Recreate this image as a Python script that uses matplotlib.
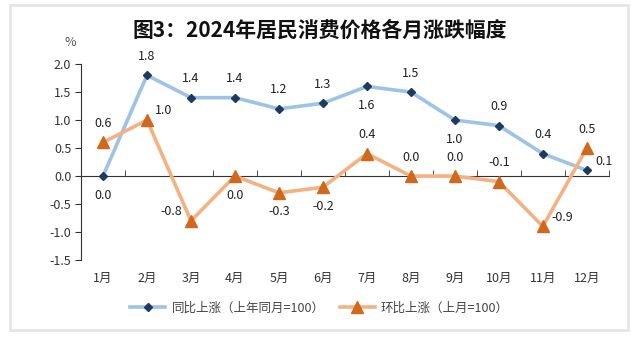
import numpy as np
import matplotlib
matplotlib.use("Agg")
import matplotlib.pyplot as plt
from matplotlib.patches import Rectangle

plt.rcParams['font.family'] = ['Noto Sans CJK SC', 'DejaVu Sans']

months = ['1月', '2月', '3月', '4月', '5月', '6月', '7月', '8月', '9月', '10月', '11月', '12月']
yoy = [0.0, 1.8, 1.4, 1.4, 1.2, 1.3, 1.6, 1.5, 1.0, 0.9, 0.4, 0.1]
mom = [0.6, 1.0, -0.8, 0.0, -0.3, -0.2, 0.4, 0.0, 0.0, -0.1, -0.9, 0.5]
# where each value label sits relative to its point
yoy_pos = ['below', 'above', 'above', 'above', 'above', 'above', 'below', 'above', 'below', 'above', 'above', 'right']
mom_pos = ['above', 'right', 'left', 'below', 'below', 'below', 'above', 'above', 'above', 'above', 'right', 'above']

fig = plt.figure(figsize=(6.39, 3.39), dpi=100)
fig.patches.append(Rectangle((0.016, 0.027), 0.967, 0.958, transform=fig.transFigure,
                             fill=False, edgecolor='#e6e6e6', linewidth=2))
ax = fig.add_axes([0.1268, 0.233, 0.826, 0.578])

x = np.arange(len(months))
ax.plot(x, yoy, color='#9dc3e6', lw=2.6, marker='D', ms=4.2, mfc='#1f3a5f', mec='#1f3a5f',
        label='同比上涨（上年同月=100）', zorder=3)
ax.plot(x, mom, color='#f4b183', lw=2.6, marker='^', ms=8, mfc='#d0691e', mec='#d0691e',
        label='环比上涨（上月=100）', zorder=3)

offsets = {'above': (0, 9, 'center', 'bottom'), 'below': (0, -9, 'center', 'top'),
           'right': (6, 2, 'left', 'bottom'), 'left': (-6, 2, 'right', 'bottom')}
for vals, pos in [(yoy, yoy_pos), (mom, mom_pos)]:
    for xi, v, p in zip(x, vals, pos):
        dx, dy, ha, va = offsets[p]
        ax.annotate(f'{v:.1f}', (xi, v), xytext=(dx, dy), textcoords='offset points',
                    ha=ha, va=va, fontsize=9, color='#222222')

ax.set_xlim(-0.5, 11.5)
ax.set_ylim(-1.5, 2.0)
ax.set_yticks(np.arange(-1.5, 2.01, 0.5))
ax.set_yticklabels([f'{t:.1f}' for t in np.arange(-1.5, 2.01, 0.5)], fontsize=9, color='#333333')
ax.tick_params(axis='y', length=4, color='#333333', pad=3)

ax.spines['top'].set_visible(False)
ax.spines['right'].set_visible(False)
ax.spines['bottom'].set_position(('data', 0))
ax.spines['left'].set_color('#333333')
ax.spines['bottom'].set_color('#333333')
ax.set_xticks(x)
ax.set_xticklabels(months, fontsize=9, color='#333333')
ax.set_xticks(np.arange(-0.5, 12, 1), minor=True)
ax.tick_params(axis='x', which='major', length=0, pad=69)
ax.tick_params(axis='x', which='minor', direction='in', length=4, color='#333333')

fig.text(0.5, 0.91, '图3：2024年居民消费价格各月涨跌幅度', ha='center', va='center',
         fontsize=15, fontweight='bold', color='#111111')
fig.text(0.11, 0.875, '%', ha='center', va='center', fontsize=9, color='#555555')

fig.legend(loc='center', bbox_to_anchor=(0.5, 0.091), ncol=2, frameon=False, fontsize=9,
           handlelength=2.8, columnspacing=1.2, handletextpad=0.5, labelcolor='#444444')

fig.savefig('out.png', dpi=100)
